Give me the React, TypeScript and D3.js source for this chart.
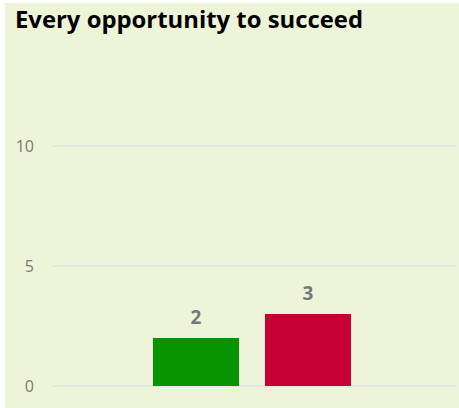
import React, { useEffect, useRef } from "react";
import { select, scaleBand, scaleLinear } from "d3";

const categories = ["Every opportunity to succeed"];
const seriesNames = ["Agree", "Disagree"];
const seriesValues = [2, 3];
const seriesColors = ["#089400", "#c50034"];
const yTicks = [0, 5, 10];

const W = 459;
const H = 408;

const App = () => {
  const ref = useRef<SVGSVGElement>(null);

  useEffect(() => {
    document.body.style.margin = "0";
    if (!ref.current) return;
    const svg = select(ref.current);
    svg.selectAll("*").remove();
    const font = "'Open Sans', 'Noto Sans', sans-serif";

    // background panel
    svg
      .append("rect")
      .attr("x", 5)
      .attr("y", 3)
      .attr("width", W - 5)
      .attr("height", H - 3)
      .attr("fill", "#eef4d8");

    svg
      .append("text")
      .attr("x", 15)
      .attr("y", 28)
      .attr("font-family", font)
      .attr("font-weight", 700)
      .attr("font-size", 23)
      .attr("textLength", 348)
      .attr("lengthAdjust", "spacingAndGlyphs")
      .attr("fill", "#000")
      .text(categories[0]);

    const y = scaleLinear().domain([0, 10]).range([386, 146]);

    // grid lines + tick labels
    const g = svg.append("g");
    g.selectAll("line")
      .data(yTicks)
      .enter()
      .append("line")
      .attr("x1", 52)
      .attr("x2", 456)
      .attr("y1", (d) => y(d))
      .attr("y2", (d) => y(d))
      .attr("stroke", "#e4e6e0")
      .attr("stroke-width", 2);
    g.selectAll("text")
      .data(yTicks)
      .enter()
      .append("text")
      .attr("x", 34)
      .attr("y", (d) => y(d) + 6)
      .attr("text-anchor", "end")
      .attr("font-family", font)
      .attr("font-size", 16)
      .attr("fill", "#7a7a7a")
      .text((d) => d);

    const x0 = scaleBand()
      .domain(categories)
      .range([52, 452])
      .paddingInner(0)
      .paddingOuter(0.51);
    const x1 = scaleBand()
      .domain(seriesNames)
      .range([0, x0.bandwidth()])
      .paddingInner(0.232)
      .paddingOuter(0);

    const bars = svg
      .append("g")
      .attr("transform", `translate(${x0(categories[0])},0)`);
    bars
      .selectAll("rect")
      .data(seriesValues)
      .enter()
      .append("rect")
      .attr("x", (_, i) => x1(seriesNames[i]) || 0)
      .attr("y", (d) => y(d))
      .attr("width", x1.bandwidth())
      .attr("height", (d) => y(0) - y(d))
      .attr("fill", (_, i) => seriesColors[i]);
    bars
      .selectAll("text")
      .data(seriesValues)
      .enter()
      .append("text")
      .attr("x", (_, i) => (x1(seriesNames[i]) || 0) + x1.bandwidth() / 2)
      .attr("y", (d) => y(d) - 14)
      .attr("text-anchor", "middle")
      .attr("font-family", font)
      .attr("font-weight", 700)
      .attr("font-size", 19)
      .attr("fill", "#777")
      .text((d) => d);
  }, []);

  return <svg ref={ref} width={W} height={H} style={{ display: "block" }}></svg>;
};

export default App;
